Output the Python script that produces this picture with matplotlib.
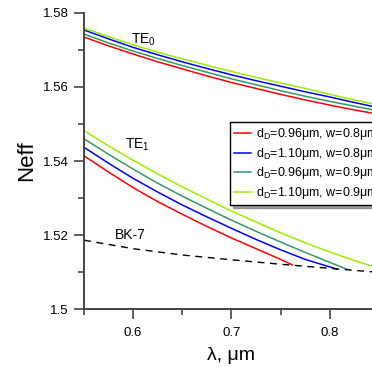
import numpy as np
import matplotlib
matplotlib.use('Agg')
import matplotlib.pyplot as plt
from matplotlib.ticker import MultipleLocator

plt.rcParams['font.family'] = ['Liberation Sans', 'DejaVu Sans']
plt.rcParams['mathtext.fontset'] = 'custom'
plt.rcParams['mathtext.rm'] = 'Liberation Sans'

# TE0 mode (wavelength in um, effective index)
te0_lam = [0.55, 0.575, 0.60, 0.625, 0.65, 0.675, 0.70, 0.725, 0.75, 0.775, 0.80, 0.825, 0.85]
te0_red = [1.5735, 1.5711, 1.5689, 1.5668, 1.5649, 1.5630, 1.5612, 1.5596, 1.5580, 1.5565, 1.5551, 1.5538, 1.5526]
te0_blue = [1.5754, 1.5730, 1.5707, 1.5687, 1.5668, 1.5650, 1.5633, 1.5617, 1.5602, 1.5587, 1.5573, 1.5558, 1.5544]
te0_green = [1.5743, 1.5719, 1.5697, 1.5677, 1.5658, 1.5640, 1.5622, 1.5606, 1.5590, 1.5575, 1.5561, 1.5548, 1.5535]
te0_lime = [1.5759, 1.5736, 1.5714, 1.5694, 1.5676, 1.5659, 1.5642, 1.5626, 1.5611, 1.5596, 1.5580, 1.5565, 1.5551]

# TE1 mode, each ends at its cutoff on the BK-7 line
te1_red_lam = [0.55, 0.575, 0.60, 0.625, 0.65, 0.675, 0.70, 0.725, 0.75, 0.762]
te1_red = [1.5414, 1.5370, 1.5328, 1.5290, 1.5256, 1.5223, 1.5192, 1.5163, 1.5134, 1.5119]
te1_blue_lam = [0.55, 0.575, 0.60, 0.625, 0.65, 0.675, 0.70, 0.725, 0.75, 0.775, 0.807]
te1_blue = [1.5437, 1.5394, 1.5353, 1.5316, 1.5281, 1.5249, 1.5218, 1.5188, 1.5160, 1.5134, 1.5108]
te1_green_lam = [0.55, 0.575, 0.60, 0.625, 0.65, 0.675, 0.70, 0.725, 0.75, 0.775, 0.80, 0.818]
te1_green = [1.5460, 1.5418, 1.5378, 1.5340, 1.5305, 1.5272, 1.5240, 1.5210, 1.5181, 1.5153, 1.5126, 1.5107]
te1_lime_lam = [0.55, 0.575, 0.60, 0.625, 0.65, 0.675, 0.70, 0.725, 0.75, 0.775, 0.80, 0.825, 0.85]
te1_lime = [1.5482, 1.5441, 1.5402, 1.5365, 1.5330, 1.5297, 1.5265, 1.5235, 1.5206, 1.5179, 1.5154, 1.5131, 1.5110]

# BK-7 substrate index
bk7_lam = [0.55, 0.60, 0.65, 0.70, 0.75, 0.80, 0.85]
bk7_n = [1.5186, 1.5163, 1.5146, 1.5133, 1.5121, 1.5110, 1.5099]

labels = [r'd$_\mathregular{D}$=0.96μm, w=0.8μm',
          r'd$_\mathregular{D}$=1.10μm, w=0.8μm',
          r'd$_\mathregular{D}$=0.96μm, w=0.9μm',
          r'd$_\mathregular{D}$=1.10μm, w=0.9μm']
colors = ['#ff0000', '#0000ff', '#339966', '#99ee00']

fig = plt.figure(figsize=(3.72, 3.67), dpi=100)
ax = fig.add_axes([0.2258, 0.158, 0.793, 0.8066])

te0 = [te0_red, te0_blue, te0_green, te0_lime]
te1 = [(te1_red_lam, te1_red), (te1_blue_lam, te1_blue),
       (te1_green_lam, te1_green), (te1_lime_lam, te1_lime)]
for i in range(4):
    ax.plot(te0_lam, te0[i], color=colors[i], lw=1.1, label=labels[i])
    ax.plot(te1[i][0], te1[i][1], color=colors[i], lw=1.1)

ax.plot(bk7_lam, bk7_n, color='black', lw=1.0, ls=(0, (5, 4)))

ax.text(0.598, 1.5727, r'TE$_\mathregular{0}$', fontsize=10, ha='left', va='center')
ax.text(0.592, 1.5443, r'TE$_\mathregular{1}$', fontsize=10, ha='left', va='center')
ax.text(0.581, 1.5199, 'BK-7', fontsize=10, ha='left', va='center')

ax.set_xlim(0.55, 0.85)
ax.set_ylim(1.5, 1.58)
ax.xaxis.set_minor_locator(MultipleLocator(0.05))
ax.yaxis.set_minor_locator(MultipleLocator(0.01))
ax.set_yticks([1.5, 1.52, 1.54, 1.56, 1.58])
ax.set_yticklabels(['1.5', '1.52', '1.54', '1.56', '1.58'])
ax.set_xticks([0.6, 0.7, 0.8])
ax.set_xticklabels(['0.6', '0.7', '0.8'])

for s in ['top', 'right']:
    ax.spines[s].set_visible(False)
for s in ['left', 'bottom']:
    ax.spines[s].set_color('#444444')
    ax.spines[s].set_linewidth(1.4)
ax.tick_params(which='major', direction='out', length=7, width=1.2,
               color='#444444', labelsize=9.5, pad=4)
ax.tick_params(which='minor', direction='out', length=4.5, width=1.2,
               color='#444444')
ax.tick_params(axis='x', which='major', pad=6)

ax.set_ylabel('Neff', fontsize=16, labelpad=4)
ax.set_xlabel('λ, μm', fontsize=14, labelpad=6)

leg = ax.legend(loc='upper left', bbox_to_anchor=(230 / 372, 1 - 122 / 367),
                bbox_transform=fig.transFigure, fontsize=9,
                frameon=True, fancybox=False, shadow=True, edgecolor='black',
                handlelength=1.35, handletextpad=0.35, borderpad=0.35,
                labelspacing=0.28, borderaxespad=0)
leg.get_frame().set_linewidth(1.0)

fig.savefig('out.png', dpi=100)
